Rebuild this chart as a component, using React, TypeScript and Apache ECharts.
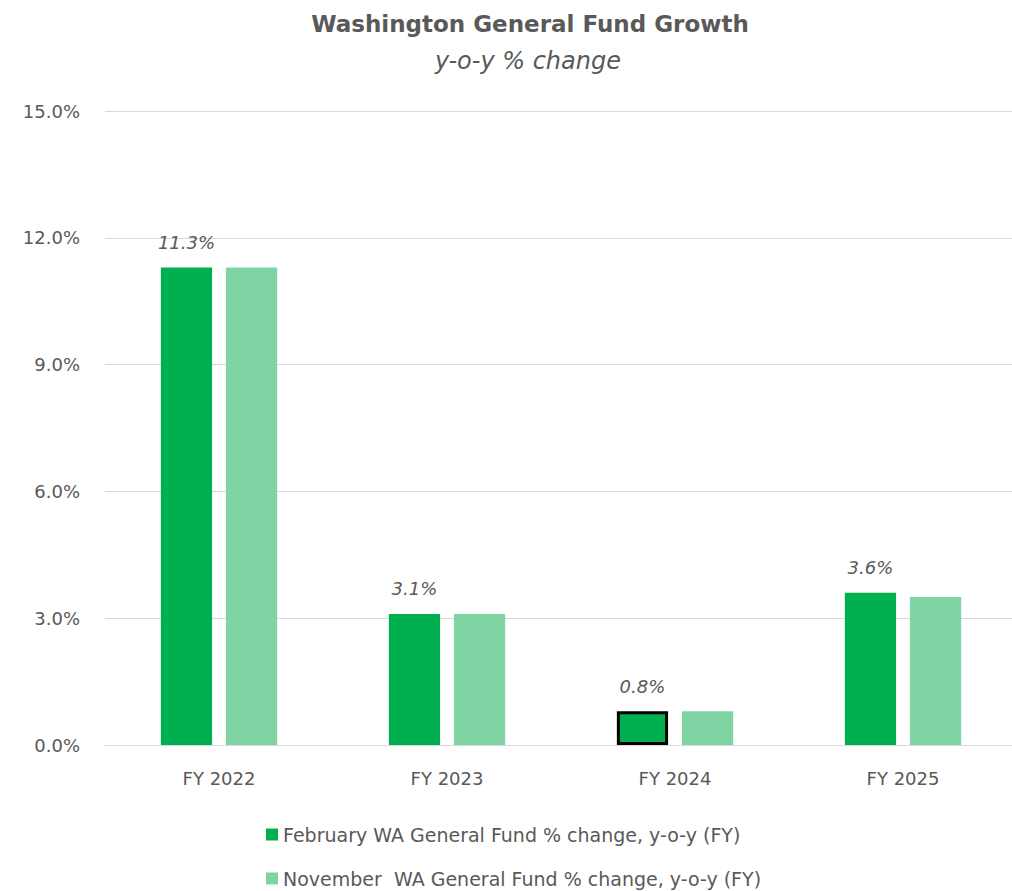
import React, { useEffect, useRef } from "react";
import * as echarts from "echarts";

const categories = ["FY 2022", "FY 2023", "FY 2024", "FY 2025"];
const februaryValues = [11.3, 3.1, 0.8, 3.6];
const novemberValues = [11.3, 3.1, 0.8, 3.5];
const yTicks = { min: 0, max: 15, interval: 3 };
const seriesNames = [
  "February WA General Fund % change, y-o-y (FY)",
  "November  WA General Fund % change, y-o-y (FY)",
];
const highlightIndex = 2;

const FONT = "'DejaVu Sans', sans-serif";
const GRAY = "#595959";

export default function App() {
  const ref = useRef<HTMLDivElement>(null);
  useEffect(() => {
    if (!ref.current) return;
    const chart = echarts.init(ref.current, undefined, { renderer: "svg" });
    const legendBase = {
      orient: "vertical",
      left: 261,
      itemWidth: 12,
      itemHeight: 12,
      icon: "rect",
      textStyle: { fontFamily: FONT, fontSize: 19, color: GRAY, padding: [0, 0, 0, 0] },
    };
    chart.setOption({
      animation: false,
      backgroundColor: "#ffffff",
      textStyle: { fontFamily: FONT },
      title: [
        {
          text: "Washington General Fund Growth",
          left: 525,
          textAlign: "center",
          top: 7,
          textStyle: { fontFamily: FONT, fontSize: 23, fontWeight: "bold", color: GRAY },
        },
        {
          text: "y-o-y % change",
          left: 523,
          textAlign: "center",
          top: 44,
          textStyle: { fontFamily: FONT, fontSize: 24, fontStyle: "italic", fontWeight: "normal", color: GRAY },
        },
      ],
      legend: [
        { ...legendBase, top: 820, data: [seriesNames[0]] },
        { ...legendBase, top: 864, data: [seriesNames[1]] },
      ],
      grid: { left: 105, top: 111, width: 912, height: 634, containLabel: false },
      xAxis: {
        type: "category",
        data: categories,
        axisLine: { lineStyle: { color: "#D9D9D9", width: 1 } },
        axisTick: { show: false },
        axisLabel: { color: GRAY, fontSize: 18, fontFamily: FONT, margin: 24 },
      },
      yAxis: {
        type: "value",
        min: yTicks.min,
        max: yTicks.max,
        interval: yTicks.interval,
        axisLine: { show: false },
        axisTick: { show: false },
        splitLine: { lineStyle: { color: "#D9D9D9", width: 1 } },
        axisLabel: {
          color: GRAY,
          fontSize: 18,
          fontFamily: FONT,
          margin: 25,
          formatter: (v: number) => v.toFixed(1) + "%",
        },
      },
      series: [
        {
          name: seriesNames[0],
          type: "bar",
          barGap: "27%",
          barCategoryGap: "49%",
          itemStyle: { color: "#00B050" },
          data: februaryValues.map((v, i) =>
            i === highlightIndex
              ? { value: v, itemStyle: { color: "#00B050", borderColor: "#000000", borderWidth: 3 } }
              : v
          ),
          label: {
            show: true,
            position: "top",
            distance: 16,
            fontStyle: "italic",
            fontSize: 18,
            color: GRAY,
            fontFamily: FONT,
            formatter: (p: any) => Number(p.value).toFixed(1) + "%",
          },
        },
        {
          name: seriesNames[1],
          type: "bar",
          itemStyle: { color: "#80D4A3" },
          data: novemberValues,
        },
      ],
    });
    return () => chart.dispose();
  }, []);
  return (
    <div
      ref={ref}
      style={{ position: "fixed", left: 0, top: 0, width: 1017, height: 891, background: "#fff" }}
    />
  );
}
